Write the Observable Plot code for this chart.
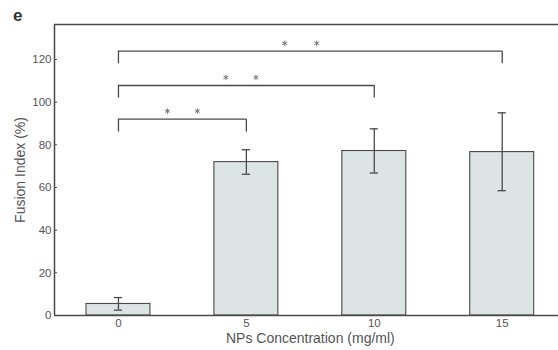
<!DOCTYPE html>
<html>
<head>
<meta charset="utf-8">
<script src="https://cdn.jsdelivr.net/npm/d3@7"></script>
<script src="https://cdn.jsdelivr.net/npm/@observablehq/plot@0.6"></script>
<style>
  html, body { margin: 0; padding: 0; background: #fff; }
  #wrap { position: relative; width: 558px; height: 350px; }
  #panel { position: absolute; left: 13px; top: 6px; font: bold 17px "Liberation Sans", Arial, sans-serif; color: #333; }
</style>
</head>
<body>
<div id="wrap"><div id="panel">e</div></div>
<script>
// Data
const concentrations = ["0", "5", "10", "15"];
const meanValues = [5.4, 71.9, 77.1, 76.6];
const errLow = [2.5, 66.2, 66.8, 58.5];
const errHigh = [8.4, 77.7, 87.5, 95.0];
const yTicks = [0, 20, 40, 60, 80, 100, 120];
// significance brackets: from index, to index, bar height, end of the drop
const bracketFrom = [0, 0, 0];
const bracketTo = [1, 2, 3];
const bracketY = [92.0, 107.8, 123.9];
const bracketDrop = [86.0, 101.9, 118.0];
// asterisk positions (x in category-index units, y in %)
const starX = [0.383, 0.617, 0.84, 1.075, 1.30, 1.55];
const starY = [95.8, 95.8, 111.6, 111.6, 127.6, 127.6];

const bars = concentrations.map((c, i) => ({i, c, v: meanValues[i], lo: errLow[i], hi: errHigh[i]}));
const brackets = bracketFrom.map((f, k) => ({f, t: bracketTo[k], y: bracketY[k], d: bracketDrop[k]}));
const stars = starX.map((x, k) => ({x, y: starY[k]}));

const halfBar = 0.25, halfCap = 0.032;
const xMin = -0.5, xMax = 3.44, yMax = 136.4;
const ink = "#4a4a4a";
const font = "'Liberation Sans', Arial, sans-serif";

const chart = Plot.plot({
  width: 558,
  height: 350,
  marginLeft: 54,
  marginRight: 0,
  marginTop: 24,
  marginBottom: 35,
  style: {fontFamily: font, fontSize: "11.5px", color: "#555", background: "#fff"},
  x: {domain: [xMin, xMax]},
  y: {domain: [0, yMax]},
  marks: [
    Plot.rectY(bars, {x1: d => d.i - halfBar, x2: d => d.i + halfBar, y1: 0, y2: "v", fill: "#dde4e4", stroke: ink, strokeWidth: 1.1}),
    Plot.ruleX(bars, {x: "i", y1: "lo", y2: "hi", stroke: ink, strokeWidth: 1.3}),
    Plot.ruleY(bars, {y: "lo", x1: d => d.i - halfCap, x2: d => d.i + halfCap, stroke: ink, strokeWidth: 1.3}),
    Plot.ruleY(bars, {y: "hi", x1: d => d.i - halfCap, x2: d => d.i + halfCap, stroke: ink, strokeWidth: 1.3}),
    Plot.ruleY(brackets, {y: "y", x1: "f", x2: "t", stroke: ink, strokeWidth: 1.3}),
    Plot.ruleX(brackets, {x: "f", y1: "d", y2: "y", stroke: ink, strokeWidth: 1.3}),
    Plot.ruleX(brackets, {x: "t", y1: "d", y2: "y", stroke: ink, strokeWidth: 1.3}),
    Plot.dot(stars, {x: "x", y: "y", symbol: "asterisk", r: 2.6, stroke: "#777", strokeWidth: 1}),
    Plot.ruleY([0, yMax], {stroke: ink, strokeWidth: 1.5}),
    Plot.ruleX([xMin], {stroke: ink, strokeWidth: 1.5}),
    Plot.axisY({ticks: yTicks, tickSize: 3, tickPadding: 3, dx: 3, stroke: ink, fill: "#555", label: null}),
    Plot.axisX({ticks: [0, 1, 2, 3], tickFormat: d => concentrations[d], tickSize: 0, tickPadding: 3, fill: "#555", label: null}),
    Plot.text(["Fusion Index (%)"], {frameAnchor: "left", textAnchor: "middle", lineAnchor: "middle", rotate: -90, dx: -34, fontSize: 14, fill: "#555"}),
    Plot.text(["NPs Concentration (mg/ml)"], {x: 1.5, frameAnchor: "bottom", dy: 23, fontSize: 14, fill: "#555", lineAnchor: "middle"})
  ]
});
document.getElementById("wrap").prepend(chart);
</script>
</body>
</html>
